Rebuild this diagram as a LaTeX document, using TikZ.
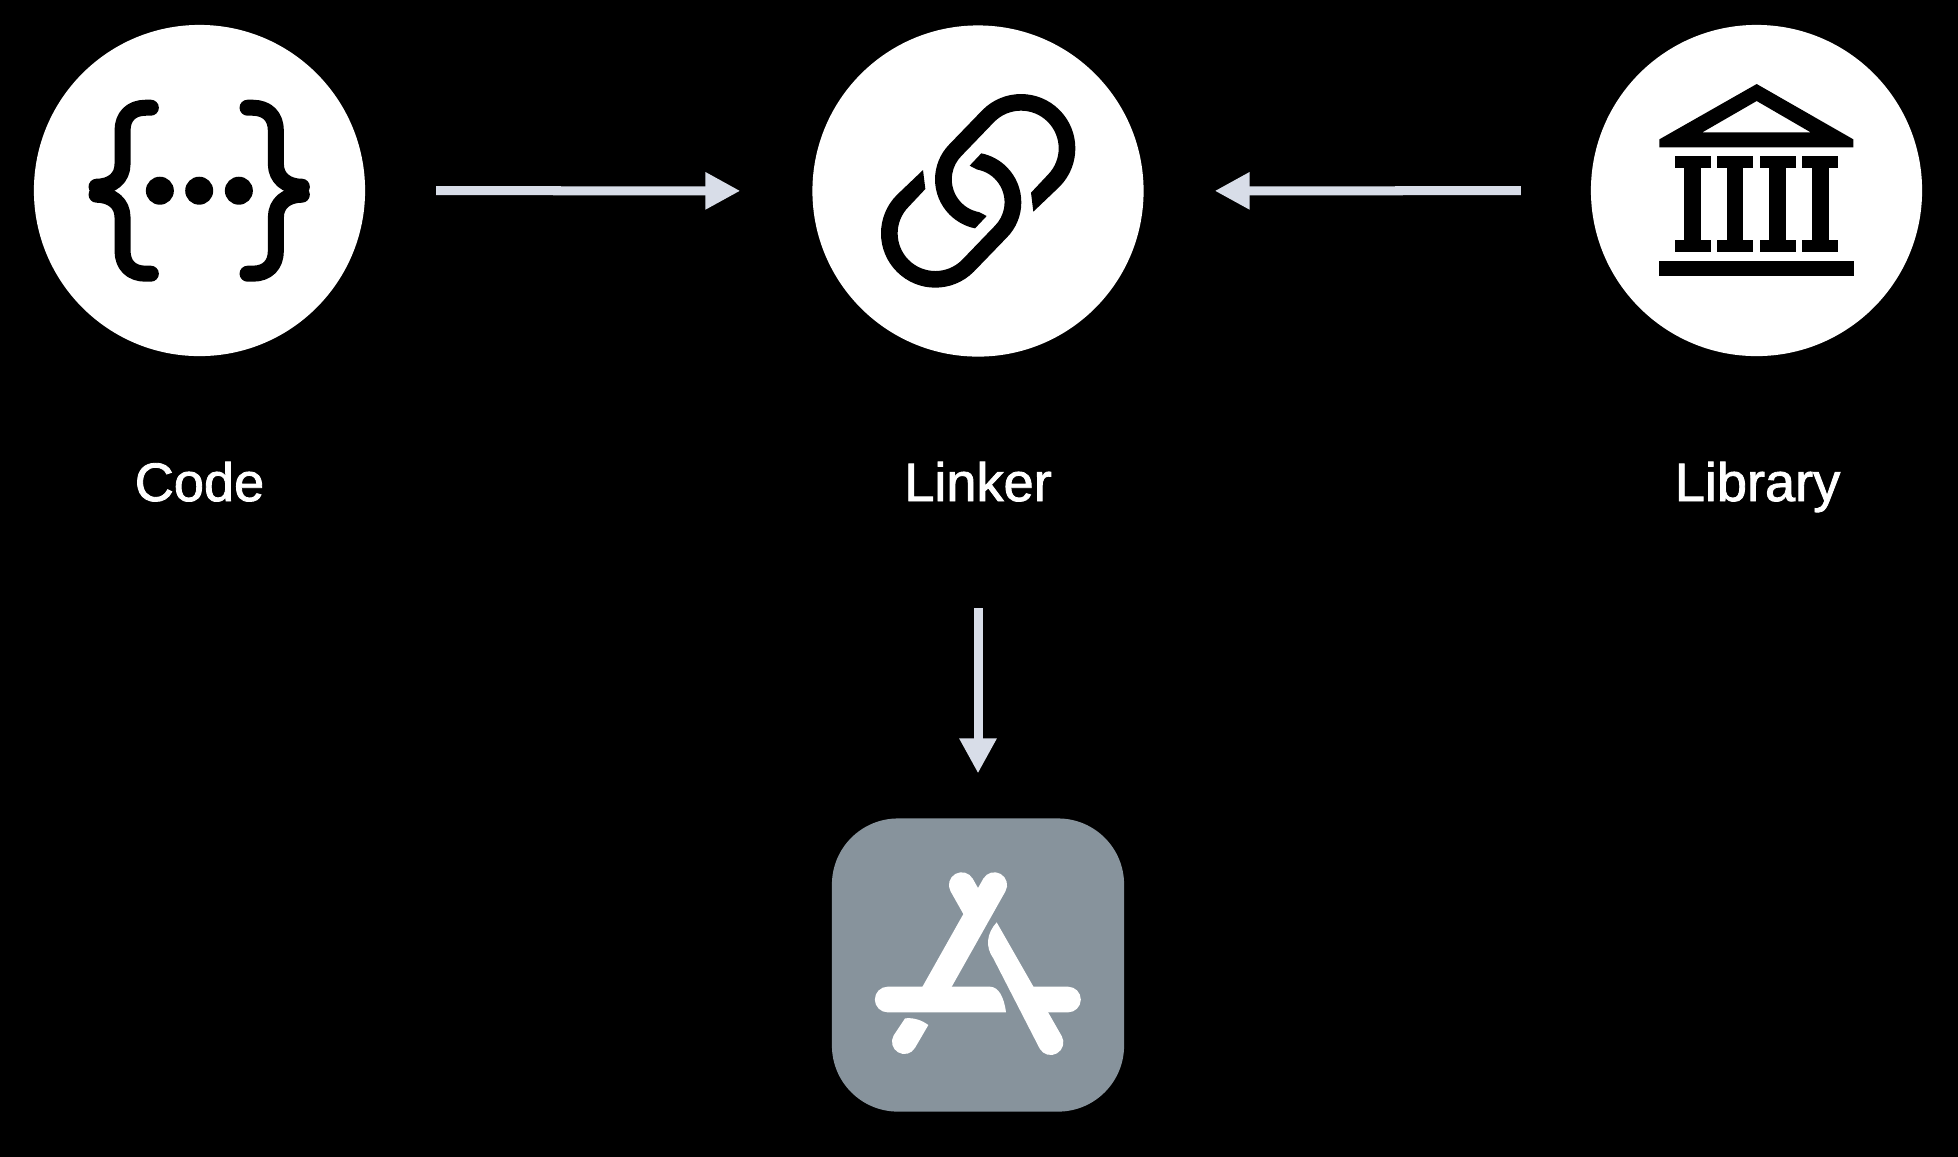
\documentclass[tikz,border=0pt]{standalone}
\usepackage{fontspec}
\usepackage{xcolor}
\usepackage{tikz}
\usetikzlibrary{arrows.meta}
\newfontfamily\labelfont[FakeBold=1.6]{Liberation Sans}
\definecolor{flowgray}{HTML}{D8DDE8}
\definecolor{appgray}{HTML}{87939C}

\tikzset{
  hub/.style={circle, fill=white, inner sep=0pt, outer sep=0pt, minimum size=3.31cm},
  hublabel/.style={anchor=base, text=white, inner sep=0pt, outer sep=0pt, text height=0.39cm, text depth=0.1cm, font=\labelfont\fontsize{15.4pt}{18pt}\selectfont},
  appicon/.style={rectangle, rounded corners=0.66cm, fill=appgray, inner sep=0pt, outer sep=0pt, minimum width=2.92cm, minimum height=2.93cm},
  flow/.style={line width=0.09cm, draw=flowgray, -{Triangle[length=3.5mm,width=3.5mm]}},
  brace/.style={line width=0.16cm, line cap=round, line join=round},
  glyphline/.style={line width=0.255cm, line cap=round}
}

\begin{document}
\begin{tikzpicture}[x=0.01cm, y=-0.01cm]
\useasboundingbox (0,0) rectangle (1958,1156);
\fill[black] (-5,-5) rectangle (1963,1161);

\node[hub] (code) at (199.5,190.5) {};
\node[hub] (linker) at (978,191) {};
\node[hub] (library) at (1756.5,190.5) {};
\node[hublabel] (codelabel) at (199.5,501) {Code};
\node[hublabel] (linkerlabel) at (978,501) {Linker};
\node[hublabel] (librarylabel) at (1757.5,501) {Library};
\node[appicon] (appstore) at (978,965) {};

\draw[flow, shorten <=0.71cm, shorten >=0.72cm] (code) -- (linker);
\draw[flow, shorten <=0.7cm, shorten >=0.71cm] (library) -- (linker);
\draw[flow, shorten <=0.97cm, shorten >=0.45cm] (linkerlabel.south) -- (appstore.north);

% braces and dots
\begin{scope}[shift={(199.2,190.7)}, scale=1/3]
\foreach \fx in {1,-1} \foreach \fy in {1,-1}
  \draw[brace, xscale=\fx, yscale=\fy] (-145,-249) -- (-160,-249) .. controls (-205,-249) and (-230,-222) .. (-230,-180) -- (-230,-80) .. controls (-230,-38) and (-262,-12) .. (-308,-12);
\foreach \cx in {-118,0,119}
  \fill (\cx,0) circle (42);
\end{scope}

% two links
\begin{scope}[shift={(800,10)}, scale=1/3]
\foreach \r in {0,180}
  \fill[rotate around={\r:(534.5,542.5)}] (700,605) -- (778.3,530.3) arc[start angle=45, end angle=-135, radius=163] -- (449,402) arc[start angle=225, end angle=101.5, radius=150] -- (560,618) -- (538,606.5) arc[start angle=100, end angle=225, radius=100] -- (583.1,335.1) arc[start angle=-135, end angle=45, radius=113] -- (693,548) -- cycle;
\end{scope}

% temple
\begin{scope}[shift={(1580,10)}, scale=1/3]
\fill[even odd rule] (530,222) -- (820,388) -- (820,412) -- (238,412) -- (238,388) -- cycle (530,273) -- (692,367) -- (367,367) -- cycle;
\foreach \cx in {338,465,593,721} {
  \fill (\cx-54,437) rectangle (\cx+54,473);
  \fill (\cx-25,473) rectangle (\cx+25,691);
  \fill (\cx-54,691) rectangle (\cx+54,727);
}
\fill (238,754) rectangle (822,798);
\end{scope}

% app glyph
\begin{scope}[shift={(800,800)}, scale=1/3, white]
\draw[glyphline] (583,255) -- (400,580);
\draw[glyphline] (485,255) -- (530,335);
\fill (263,560) -- (570,560) .. controls (595,560) and (612,590) .. (618,637) -- (263,637) arc[start angle=90, end angle=270, radius=38.5] -- cycle;
\fill (680,560) -- (804,560) arc[start angle=-90, end angle=90, radius=38.5] -- (680,637) -- cycle;
\fill (590,367) -- (785,708) arc[start angle=-30, end angle=150, radius=38] -- (580,475) .. controls (555,440) and (560,400) .. (590,367) -- cycle;
\fill (315,655) .. controls (340,652) and (365,660) .. (385,675) -- (345,743.5) arc[start angle=30, end angle=210, radius=37] -- cycle;
\end{scope}
\end{tikzpicture}
\end{document}
